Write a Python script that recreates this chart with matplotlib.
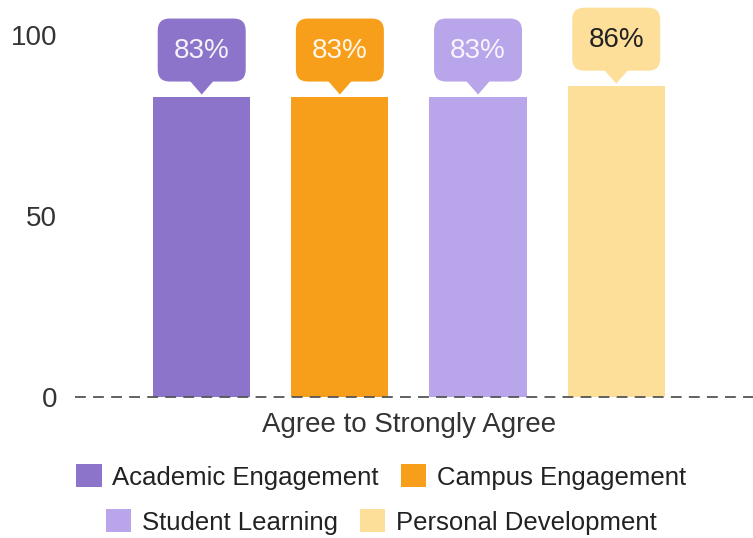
import matplotlib
matplotlib.use("Agg")
import matplotlib.pyplot as plt
import matplotlib.transforms as mtransforms
from matplotlib.patches import FancyBboxPatch, Polygon

plt.rcParams['font.family'] = ['Liberation Sans', 'DejaVu Sans']

category = "Agree to Strongly Agree"
series = ["Academic Engagement", "Campus Engagement", "Student Learning", "Personal Development"]
values = [83, 83, 83, 86]
labels = ["83%", "83%", "83%", "86%"]
colors = ["#8B74C9", "#F79E1B", "#B9A5E9", "#FDDF9A"]
label_colors = ["#F4F2FA", "#FFF6EA", "#F7F4FE", "#222222"]
yticks = [0, 50, 100]

W, H = 753, 538
fig = plt.figure(figsize=(W / 100, H / 100), dpi=100)
ax = fig.add_axes([75 / W, (H - 397) / H, (W - 75) / W, (397 - 35) / H])

positions = list(range(len(series)))
bars = []
for i, (name, v, c) in enumerate(zip(series, values, colors)):
    b = ax.bar(positions[i], v, width=0.703, color=c, label=name, zorder=2)
    bars.append(b)

ax.set_xlim(-0.917, 3.99)
ax.set_ylim(0, 100)
ax.set_yticks(yticks)
ax.set_yticklabels([str(t) for t in yticks])
ax.set_xticks([sum(positions) / len(positions)])
ax.set_xticklabels([category])
ax.tick_params(axis='both', length=0, labelsize=20, colors='#333333')
ax.tick_params(axis='y', pad=13)
ax.tick_params(axis='x', pad=11)
for lbl in ax.get_xticklabels():
    lbl.set_x(sum(positions) / len(positions))
for s in ax.spines.values():
    s.set_visible(False)
ax.axhline(0, color='#555555', lw=1.3, ls=(0, (6, 4)), zorder=3, clip_on=False)

# callouts (sizes in pixels, anchored at bar tops)
for i, (v, lab, c, tc) in enumerate(zip(values, labels, colors, label_colors)):
    tr = mtransforms.Affine2D() + mtransforms.ScaledTranslation(positions[i], v, ax.transData)
    box = FancyBboxPatch((-44 + 12, 15 + 12), 88 - 24, 63 - 24,
                         boxstyle="round,pad=12,rounding_size=12",
                         facecolor=c, edgecolor='none', transform=tr, clip_on=False, zorder=4)
    ax.add_patch(box)
    tri = Polygon([(-13, 17), (13, 17), (0, 2)], closed=True, facecolor=c,
                  edgecolor='none', transform=tr, clip_on=False, zorder=4)
    ax.add_patch(tri)
    ax.text(0, 46, lab, transform=tr, ha='center', va='center', fontsize=20,
            color=tc, zorder=5, clip_on=False)

leg_kw = dict(frameon=False, fontsize=18.5, ncol=2, handlelength=1.0, handleheight=1.0,
              handletextpad=0.4, columnspacing=0.85, borderaxespad=0, borderpad=0,
              labelcolor='#222222')
l1 = fig.legend(bars[:2], series[:2], loc='center', bbox_to_anchor=(381 / W, (H - 477) / H), **leg_kw)
l2 = fig.legend(bars[2:], series[2:], loc='center', bbox_to_anchor=(381 / W, (H - 522) / H), **leg_kw)

fig.savefig("out.png", dpi=100)
